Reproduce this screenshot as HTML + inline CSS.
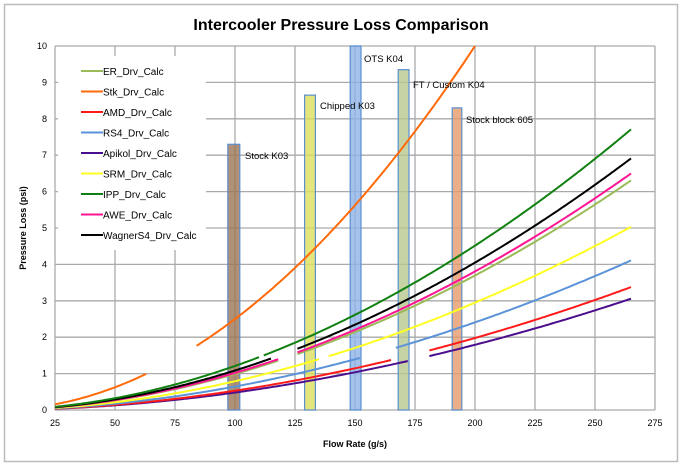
<!DOCTYPE html>
<html><head><meta charset="utf-8"><style>
html,body{margin:0;padding:0;background:#fff;}
svg{display:block;font-family:"Liberation Sans",sans-serif;}
</style></head><body>
<svg id="s" width="682" height="467" viewBox="0 0 682 467" xmlns="http://www.w3.org/2000/svg">
<rect x="0" y="0" width="682" height="467" fill="#fff"/>
<rect x="4.5" y="4.5" width="673" height="457" fill="#fff" stroke="#bbb" stroke-width="1.5"/>
<text x="341" y="30" text-anchor="middle" font-size="16" font-weight="bold" fill="#000">Intercooler Pressure Loss Comparison</text>
<g id="grid" stroke="#aaa" stroke-width="1.3"></g>
<rect x="58" y="56" width="148" height="194" fill="#fff"/>
<g id="bars"></g>
<g id="curves" fill="none" stroke-width="2"></g>
<g font-size="9" fill="#000" id="ticks"></g>
<text x="355" y="447" text-anchor="middle" font-size="9" font-weight="bold">Flow Rate (g/s)</text>
<text transform="translate(26,228) rotate(-90)" text-anchor="middle" font-size="9" font-weight="bold">Pressure Loss (psi)</text>
<g font-size="9.5" fill="#000">
<text x="245" y="159">Stock K03</text>
<text x="320" y="109">Chipped K03</text>
<text x="364" y="62">OTS K04</text>
<text x="413" y="88">FT / Custom K04</text>
<text x="466" y="123">Stock block 605</text>
</g>
<g font-size="10" fill="#000" id="legend"></g>
</svg>
<script>
var X=function(v){return 55+(v-25)*2.4;},Y=function(v){return 410-v*36.4;};
var ns="http://www.w3.org/2000/svg";
function el(p,t,a,txt){var e=document.createElementNS(ns,t);for(var k in a)e.setAttribute(k,a[k]);if(txt)e.textContent=txt;document.getElementById(p).appendChild(e);return e;}
for(var v=25;v<=275;v+=25){el("grid","line",{x1:X(v),x2:X(v),y1:46,y2:410});el("ticks","text",{x:X(v),y:426,"text-anchor":"middle"},""+v);}
for(var i=0;i<=10;i++){el("grid","line",{x1:55,x2:655,y1:Y(i),y2:Y(i)});el("ticks","text",{x:47,y:Y(i)+3,"text-anchor":"end"},""+i);}
var bars=[[97,102,7.3,"#9b7556"],[129,133.5,8.65,"#dede5c"],[148,152.5,10,"#8fb3e8"],[168,172.5,9.35,"#b8c88e"],[190.5,194.5,8.3,"#e59a6c"]];
bars.forEach(function(b){el("bars","rect",{x:X(b[0]),y:Y(b[2]),width:X(b[1])-X(b[0]),height:Y(0)-Y(b[2]),fill:b[3],"fill-opacity":0.8,stroke:"#5b8fd0","stroke-width":1.2});});
function path(c,n,a,b,col){var d="";for(var x=a;x<=b+0.01;x+=1){var y=c*Math.pow(x/100,n);if(y>10.05)break;d+=(d?"L":"M")+X(x).toFixed(1)+","+Y(y).toFixed(1);}el("curves","path",{d:d,stroke:col});}
var S=[
[0.48,1.9,"#4b0e8c",[[25,172],[181,265]]],
[0.53,1.9,"#ff1a1a",[[25,165],[181,265]]],
[0.645,1.9,"#5b93d8",[[25,152],[167,265]]],
[0.79,1.9,"#ffff22",[[25,135],[139,265]]],
[0.99,1.9,"#9bbb59",[[25,118],[126,265]]],
[1.02,1.9,"#ff1493",[[25,118],[126,265]]],
[1.085,1.9,"#000000",[[25,115],[126,265]]],
[1.21,1.9,"#108010",[[25,110],[112,265]]],
[2.5,2,"#ff6a0a",[[25,63],[84,205]]]
];
S.forEach(function(s){s[3].forEach(function(r){path(s[0],s[1],r[0],r[1],s[2]);});});
var L=[["ER_Drv_Calc","#9bbb59"],["Stk_Drv_Calc","#ff6a0a"],["AMD_Drv_Calc","#ff1a1a"],["RS4_Drv_Calc","#5b93d8"],["Apikol_Drv_Calc","#4b0e8c"],["SRM_Drv_Calc","#ffff22"],["IPP_Drv_Calc","#108010"],["AWE_Drv_Calc","#ff1493"],["WagnerS4_Drv_Calc","#000000"]];
L.forEach(function(l,i){var y=71+i*20.5;el("legend","line",{x1:81,x2:103,y1:y,y2:y,stroke:l[1],"stroke-width":2});el("legend","text",{x:103,y:y+4},l[0]);});
</script>
</body></html>
